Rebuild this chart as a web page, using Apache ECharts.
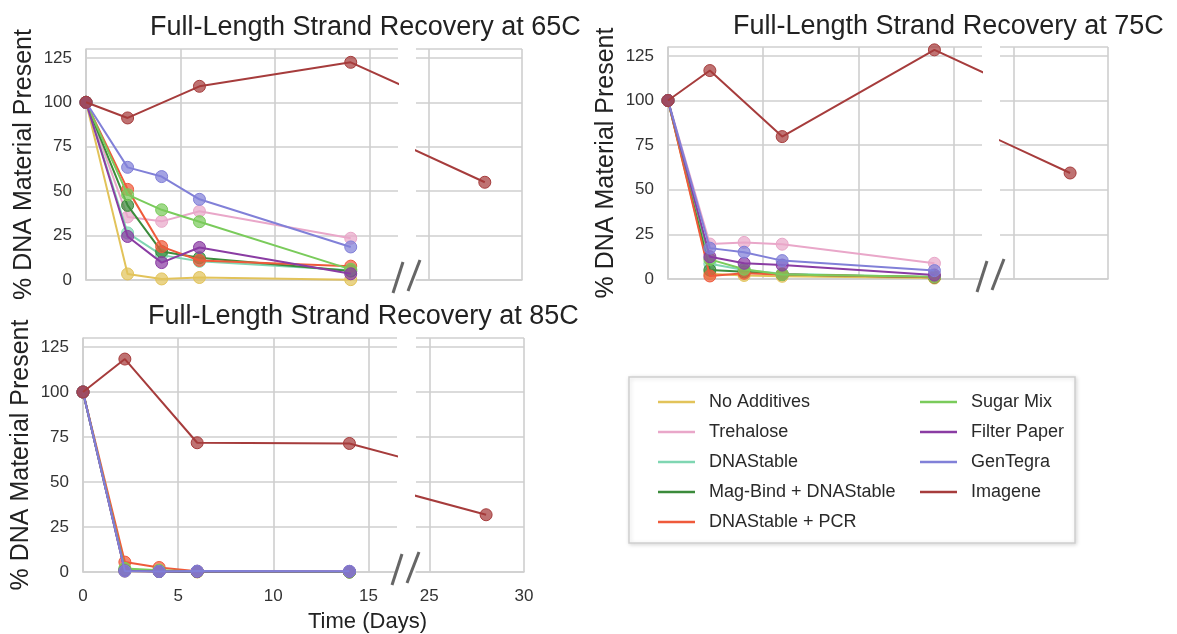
<!DOCTYPE html>
<html><head><meta charset="utf-8">
<script src="https://cdn.jsdelivr.net/npm/echarts@6/dist/echarts.min.js"></script>
<style>html,body{margin:0;padding:0;background:#fff}#c{width:1177px;height:634px}</style>
</head><body><div id="c"></div>
<script>
// ---------------- data ----------------
const treatments = ['No Additives','Trehalose','DNAStable','Mag-Bind + DNAStable','DNAStable + PCR','Sugar Mix','Filter Paper','GenTegra','Imagene'];
const colors = ['#e2c35a','#e9a7c9','#7fd6b2','#3b8b3b','#ef5a3b','#7acb5b','#8a3ca3','#8180d8','#a63c3c'];
const days = [0, 2.2, 4, 6, 14];
const imageneDays = [0, 2.2, 6, 14, 28];
const xTicksLeft = [0, 5, 10, 15];
const xTicksRight = [25, 30];
const yTickStep = 25;
const titles = ['Full-Length Strand Recovery at 65C','Full-Length Strand Recovery at 75C','Full-Length Strand Recovery at 85C'];
const yName = '% DNA Material Present';
const xName = 'Time (Days)';

// 65C
const noAdditives65 = [100, 3.4, 0.6, 1.4, 0.2];
const trehalose65   = [100, 35.5, 33, 38.7, 23.5];
const dnaStable65   = [100, 26.5, 14, 10.5, 5.5];
const magBind65     = [100, 42, 16, 12.5, 5];
const pcr65         = [100, 51, 18.8, 11, 7.8];
const sugarMix65    = [100, 48, 39.5, 32.8, 6];
const filterPaper65 = [100, 24.5, 9.8, 18.3, 3.5];
const genTegra65    = [100, 63.4, 58.2, 45.4, 18.6];
const imagene65     = [100, 91.2, 109, 122.5, 55];
// 75C
const noAdditives75 = [100, 3, 2, 1.5, 0.5];
const trehalose75   = [100, 19.6, 20.5, 19.5, 8.8];
const dnaStable75   = [100, 8.5, 5, 3, 1];
const magBind75     = [100, 5, 4, 2.5, 1];
const pcr75         = [100, 1.7, 3.2, 2.5, 1];
const sugarMix75    = [100, 11, 5.5, 2.5, 1.2];
const filterPaper75 = [100, 12.5, 8.8, 7.8, 2.2];
const genTegra75    = [100, 17.3, 15, 10.3, 4.7];
const imagene75     = [100, 116.8, 79.8, 128.4, 59.4];
// 85C
const noAdditives85 = [100, 0.5, 0.2, 0, 0];
const trehalose85   = [100, 1, 0.3, 0.2, 0];
const dnaStable85   = [100, 1.5, 0.5, 0.2, 0];
const magBind85     = [100, 1, 0.3, 0.2, 0];
const pcr85         = [100, 5.5, 2.5, 0.4, 0.1];
const sugarMix85    = [100, 2, 1, 0.3, 0];
const filterPaper85 = [100, 0.6, 0.3, 0.3, 0.3];
const genTegra85    = [100, 0.5, 0.3, 0.5, 0.4];
const imagene85     = [100, 118.3, 71.8, 71.4, 31.8];

const panelData = [
  [noAdditives65, trehalose65, dnaStable65, magBind65, pcr65, sugarMix65, filterPaper65, genTegra65, imagene65],
  [noAdditives75, trehalose75, dnaStable75, magBind75, pcr75, sugarMix75, filterPaper75, genTegra75, imagene75],
  [noAdditives85, trehalose85, dnaStable85, magBind85, pcr85, sugarMix85, filterPaper85, genTegra85, imagene85]
];

// ---------------- layout ----------------
const FONT = 'Liberation Sans, Arial, sans-serif';
const GRID_C = '#cfcfcf';
const panels = [
  {left:{left:86, top:49, width:312, height:231}, right:{left:416, top:49, width:106, height:231}, title:{left:150, top:14}, xLabels:false},
  {left:{left:668, top:47, width:314, height:232}, right:{left:1000, top:47, width:108, height:232}, title:{left:733, top:13}, xLabels:false},
  {left:{left:83, top:338, width:314, height:234}, right:{left:416, top:338, width:108, height:234}, title:{left:148, top:303}, xLabels:true}
];

const grids = [], xAxes = [], yAxes = [], series = [], titleArr = [];
panels.forEach((p, pi) => {
  ['left','right'].forEach((side, si) => {
    const gi = grids.length;
    grids.push(Object.assign({containLabel:false}, p[side]));
    const isLeft = si === 0;
    const ticks = isLeft ? xTicksLeft : xTicksRight;
    xAxes.push({
      type:'value', gridIndex:gi, min: isLeft ? 0 : 24.3, max: isLeft ? 16.5 : 30,
      axisLine:{show:true, lineStyle:{color:GRID_C, width:1.6}},
      axisTick:{show:false, customValues:ticks},
      axisLabel:{show:p.xLabels, customValues:ticks, fontSize:17, color:'#333', fontFamily:FONT, margin:16},
      splitLine:{show:true, lineStyle:{color:GRID_C, width:1.6}}
    });
    yAxes.push({
      type:'value', gridIndex:gi, min:0, max:130, interval:yTickStep,
      name: isLeft ? yName : '', nameLocation:'middle', nameGap:49, nameRotate:90,
      nameTextStyle:{fontSize:25, color:'#222', fontFamily:FONT},
      axisLine:{show:isLeft, lineStyle:{color:GRID_C, width:1.6}},
      axisTick:{show:false},
      axisLabel:{show:isLeft, fontSize:17, color:'#333', fontFamily:FONT, margin:14,
        formatter:v => (v % yTickStep === 0 ? String(v) : '')},
      splitLine:{show:true, lineStyle:{color:GRID_C, width:1.6}}
    });
    treatments.forEach((name, ti) => {
      const xs = name === 'Imagene' ? imageneDays : days;
      const vals = panelData[pi][ti];
      const c = colors[ti];
      series.push({
        type:'line', name, xAxisIndex:gi, yAxisIndex:gi, clip:true,
        data: xs.map((x, i) => [x, vals[i]]),
        symbol:'circle', symbolSize:12, showSymbol:true,
        lineStyle:{color:c, width:2},
        itemStyle:{color:echarts.color.modifyAlpha(c, 0.72), borderColor:c, borderWidth:1},
        emphasis:{disabled:true}, animation:false, z: 2 + ti
      });
    });
  });
  titleArr.push({text:titles[pi], left:p.title.left, top:p.title.top, padding:0,
    textStyle:{fontSize:27, fontWeight:'normal', color:'#222', fontFamily:FONT}});
});
titleArr.push({text:xName, left:308, top:611, padding:0,
  textStyle:{fontSize:22, fontWeight:'normal', color:'#222', fontFamily:FONT}});

const legendCommon = {
  orient:'vertical', icon:'rect', itemWidth:37, itemHeight:2.5, itemGap:12, padding:0,
  textStyle:{fontSize:18, color:'#2a2a2a', fontFamily:FONT, padding:[0,0,0,9]},
  selectedMode:false
};
const legendItems = treatments.map((n, i) => ({name:n, itemStyle:{color:colors[i], opacity:1, borderWidth:0}}));

const chart = echarts.init(document.getElementById('c'), null, {renderer:'canvas'});
chart.setOption({
  backgroundColor:'#fff',
  animation:false,
  title:titleArr,
  grid:grids, xAxis:xAxes, yAxis:yAxes, series,
  legend:[
    Object.assign({left:658, top:393, data:legendItems.slice(0,5)}, legendCommon),
    Object.assign({left:920, top:393, data:legendItems.slice(5)}, legendCommon)
  ]
});

// decorations: axis-break marks and legend frame
const gfx = [{
  type:'rect', shape:{x:629, y:377, width:446, height:166}, z:-1,
  style:{fill:'#fff', stroke:'#cfcfcf', lineWidth:1.5, shadowBlur:4, shadowColor:'rgba(0,0,0,0.15)', shadowOffsetX:1, shadowOffsetY:1}
}];
panels.forEach((p, pi) => {
  const c = chart.convertToPixel({gridIndex: pi*2}, [16.5, 0]);
  [[-5, 13, 5, -18], [10, 11, 22, -20]].forEach(o => {
    gfx.push({type:'line', shape:{x1:c[0]+o[0], y1:c[1]+o[1], x2:c[0]+o[2], y2:c[1]+o[3]},
      style:{stroke:'#666', lineWidth:3}, z:10});
  });
});
chart.setOption({graphic:gfx});
</script></body></html>
